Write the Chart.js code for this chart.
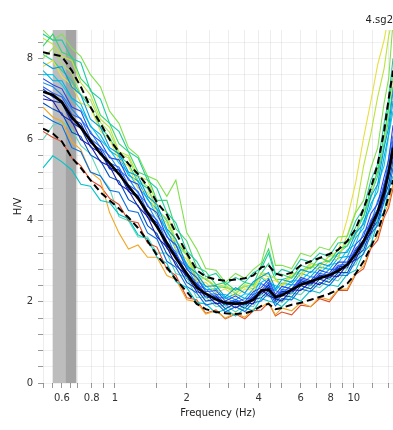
<!DOCTYPE html>
<html>
<head>
<meta charset="utf-8">
<script src="https://cdn.jsdelivr.net/npm/chart.js@4.4.1/dist/chart.umd.min.js"></script>
<style>
  html, body { margin: 0; padding: 0; background: #fff; overflow: hidden; }
  canvas { display: block; }
</style>
</head>
<body>
<canvas id="hvChart" width="393" height="430"></canvas>
<script>
// frequency samples (Hz)
var freqHz = [0.5,0.55,0.6,0.66,0.72,0.79,0.87,0.95,1.04,1.14,1.25,1.37,1.5,1.65,1.8,2.0,2.2,2.4,2.65,2.9,3.2,3.5,3.8,4.1,4.4,4.7,5.0,5.5,6.0,6.6,7.2,7.9,8.6,9.4,10.2,11.0,11.8,12.6,13.4,14.0,14.6];

// average H/V and the two std curves
var meanHV  = [7.18,7.10,6.92,6.55,6.30,5.98,5.65,5.42,5.15,4.85,4.55,4.20,3.85,3.45,3.08,2.70,2.36,2.20,2.06,1.98,1.95,1.97,2.05,2.28,2.30,2.12,2.16,2.30,2.42,2.50,2.58,2.66,2.76,2.92,3.18,3.50,3.85,4.22,4.70,5.20,5.80];
var upperHV = [8.15,8.10,8.05,7.70,7.30,6.80,6.40,6.00,5.70,5.40,5.15,4.85,4.45,4.15,3.70,3.20,2.78,2.62,2.55,2.52,2.55,2.58,2.65,2.85,2.90,2.70,2.65,2.72,2.90,3.00,3.08,3.18,3.28,3.50,3.80,4.30,4.80,5.40,6.20,7.00,7.70];
var lowerHV = [6.27,6.15,5.95,5.55,5.30,5.00,4.70,4.50,4.30,4.08,3.82,3.50,3.15,2.85,2.55,2.25,1.95,1.82,1.75,1.72,1.70,1.72,1.78,1.90,1.95,1.82,1.85,1.93,1.98,2.05,2.12,2.20,2.30,2.45,2.70,3.00,3.35,3.75,4.20,4.60,5.00];

// single time-window curves
var windowCurves = [
  [7.0,6.95,6.6,6.45,6.0,5.85,5.45,5.35,4.9,4.75,4.35,4.1,3.6,3.35,2.9,2.65,2.25,2.2,1.95,2.0,1.85,1.98,1.95,2.3,2.15,2.08,2.02,2.3,2.28,2.5,2.42,2.65,2.62,2.92,3.05,3.45,3.7,4.15,4.55,5.15,5.6],
  [7.5,7.35,7.25,6.8,6.7,6.15,5.95,5.55,5.5,5.0,4.9,4.35,4.2,3.6,3.4,2.8,2.6,2.25,2.28,2.02,2.15,2.0,2.25,2.35,2.55,2.18,2.38,2.32,2.6,2.52,2.78,2.7,2.98,2.98,3.42,3.62,4.18,4.42,5.08,5.5,6.35],
  [6.6,6.45,6.35,5.8,5.7,5.2,5.1,4.75,4.7,4.25,4.2,3.7,3.55,3.0,2.85,2.38,2.22,1.92,1.98,1.75,1.88,1.76,1.98,2.02,2.22,1.9,2.08,2.05,2.32,2.25,2.48,2.4,2.66,2.65,3.02,3.18,3.68,3.88,4.48,4.72,5.3],
  [7.9,7.75,7.8,7.3,7.1,6.5,6.3,5.8,5.65,5.2,5.1,4.6,4.4,3.8,3.55,2.9,2.7,2.38,2.4,2.12,2.35,2.22,2.5,2.62,2.72,2.32,2.55,2.48,2.8,2.72,2.95,2.88,3.2,3.22,3.7,3.92,4.6,4.9,5.8,6.3,7.2],
  [5.3,5.6,5.45,5.25,4.9,4.85,4.5,4.45,4.15,4.05,3.65,3.55,3.1,2.95,2.5,2.35,1.98,1.95,1.72,1.82,1.65,1.85,1.78,2.08,2.02,1.98,1.88,2.12,2.02,2.28,2.22,2.42,2.38,2.68,2.78,3.22,3.42,3.98,4.22,4.78,5.1],
  [8.6,8.45,8.45,8.0,7.9,7.2,7.0,6.4,6.2,5.7,5.55,5.0,4.8,4.2,3.95,3.25,3.0,2.62,2.7,2.42,2.6,2.48,2.72,2.82,3.2,2.65,2.8,2.72,3.05,2.98,3.2,3.12,3.45,3.48,4.0,4.3,5.0,5.4,6.4,7.0,8.0],
  [8.3,8.6,8.15,8.05,7.5,7.25,6.6,6.4,5.9,5.7,5.2,5.1,4.5,4.5,3.8,3.5,2.85,2.75,2.42,2.48,2.28,2.48,2.42,2.9,3.3,2.7,2.68,2.58,2.9,2.82,3.1,2.98,3.3,3.38,3.85,4.1,4.8,5.2,6.1,6.8,7.7],
  [8.7,8.45,8.6,8.25,8.05,7.6,7.3,6.7,6.4,5.8,5.6,5.1,5.0,4.6,5.0,3.7,3.3,2.82,2.78,2.48,2.7,2.58,2.8,2.95,3.65,2.9,2.9,2.82,3.2,3.12,3.35,3.28,3.6,3.62,4.2,4.5,5.3,5.8,6.9,7.5,8.9],
  [8.5,8.35,8.05,7.95,7.4,7.1,6.5,6.3,5.7,5.6,5.1,5.0,4.4,4.2,3.5,3.2,2.6,2.58,2.38,2.42,2.22,2.42,2.38,2.68,2.62,2.58,2.38,2.62,2.62,2.88,2.78,3.02,3.05,3.65,4.25,5.35,6.15,7.05,7.75,8.55,9.0],
  [7.8,7.95,7.55,7.35,6.9,6.8,6.2,6.0,5.5,5.35,4.8,4.7,4.15,3.95,3.3,3.05,2.5,2.48,2.22,2.32,2.12,2.32,2.28,2.62,2.52,2.52,2.42,2.68,2.68,2.92,2.88,3.12,3.25,4.05,4.95,6.05,6.95,7.85,8.45,9.05,9.5],
  [6.8,6.55,6.45,5.95,5.75,5.2,5.0,4.2,3.7,3.3,3.4,3.1,3.1,2.65,2.55,2.05,2.0,1.7,1.78,1.6,1.72,1.62,1.82,1.88,1.98,1.68,1.85,1.78,1.98,1.88,2.12,2.05,2.3,2.32,2.72,2.88,3.38,3.62,4.18,4.42,4.9],
  [6.2,6.05,5.95,5.55,5.35,5.0,4.85,4.55,4.4,4.0,3.95,3.45,3.35,2.8,2.65,2.1,2.05,1.72,1.8,1.58,1.7,1.58,1.78,1.8,1.98,1.65,1.75,1.68,1.92,1.88,2.08,2.0,2.28,2.28,2.68,2.82,3.32,3.52,4.08,4.32,4.8],
  [7.3,7.15,7.05,6.62,6.52,6.02,5.82,5.42,5.32,4.88,4.72,4.22,4.02,3.48,3.22,2.68,2.5,2.18,2.2,1.95,2.06,1.94,2.18,2.28,2.48,2.12,2.3,2.28,2.56,2.48,2.7,2.65,2.9,2.94,3.32,3.52,4.02,4.28,4.92,5.32,6.0],
  [6.9,6.75,6.65,6.18,6.08,5.62,5.48,5.08,4.98,4.52,4.38,3.88,3.68,3.18,2.98,2.48,2.32,2.02,2.06,1.83,1.96,1.84,2.06,2.1,2.28,1.98,2.16,2.12,2.4,2.32,2.56,2.48,2.72,2.72,3.12,3.28,3.78,3.98,4.58,4.88,5.5],
  [7.7,7.45,7.45,7.02,6.88,6.32,6.12,5.72,5.58,5.12,4.98,4.52,4.28,3.72,3.42,2.88,2.62,2.3,2.32,2.08,2.2,2.08,2.32,2.48,2.58,2.28,2.46,2.42,2.7,2.62,2.86,2.8,3.08,3.12,3.58,3.82,4.42,4.72,5.58,6.12,6.95],
  [6.0,6.35,6.45,6.25,5.85,5.65,5.1,4.8,4.1,4.0,3.6,3.6,3.2,3.2,2.7,2.6,2.1,2.12,1.88,1.92,1.75,1.92,1.88,2.18,2.12,2.12,1.98,2.22,2.18,2.42,2.35,2.58,2.52,2.82,2.92,3.38,3.58,4.08,4.42,4.98,5.4],
  [7.1,6.95,6.9,6.42,6.28,5.82,5.68,5.28,5.18,4.72,4.58,4.08,3.88,3.32,3.1,2.58,2.4,2.1,2.12,1.9,2.0,1.9,2.1,2.18,2.36,2.04,2.22,2.2,2.48,2.4,2.64,2.56,2.82,2.84,3.22,3.4,3.9,4.12,4.74,5.06,5.75],
  [8.0,8.25,7.85,7.65,7.1,6.98,6.42,6.18,5.65,5.55,5.0,4.85,4.25,4.05,3.4,3.15,2.55,2.58,2.32,2.38,2.2,2.38,2.32,2.72,2.68,2.58,2.42,2.7,2.7,2.96,2.88,3.14,3.12,3.48,3.62,4.25,4.55,5.3,5.8,6.8,7.5],
  [7.25,7.05,6.95,6.5,6.4,5.92,5.75,5.3,5.25,4.78,4.62,4.15,3.95,3.38,3.18,2.62,2.45,2.12,2.15,1.92,2.02,1.92,2.12,2.22,2.42,2.08,2.26,2.24,2.52,2.44,2.66,2.6,2.86,2.9,3.28,3.46,3.98,4.22,4.88,5.22,5.9],
  [7.4,7.3,7.1,6.75,6.5,6.2,5.8,5.6,5.25,5.05,4.68,4.4,3.98,3.65,3.12,2.85,2.42,2.32,2.1,2.1,1.98,2.08,2.1,2.45,2.35,2.28,2.2,2.42,2.42,2.62,2.58,2.8,2.8,3.1,3.2,3.72,3.92,4.5,4.8,5.55,6.1],
  [7.6,7.6,7.35,7.0,6.75,6.35,6.0,5.75,5.42,5.18,4.82,4.55,4.12,3.78,3.28,2.95,2.5,2.4,2.18,2.18,2.05,2.2,2.18,2.6,2.45,2.4,2.3,2.52,2.52,2.75,2.7,2.92,2.95,3.28,3.42,4.0,4.3,4.9,5.35,6.1,6.7],
  [8.1,7.95,7.7,7.45,7.1,6.8,6.3,6.05,5.6,5.4,4.95,4.8,4.3,4.0,3.5,3.15,2.7,2.55,2.38,2.35,2.3,2.38,2.42,2.7,2.95,2.55,2.55,2.62,2.78,2.85,2.95,3.02,3.2,3.38,3.72,4.1,4.65,5.1,5.9,6.5,7.3]
];
var windowColors = ['#1c1ca8','#2848e8','#0a6ee0','#009cdc','#00c4c8','#1ecca0','#3cd270','#82e050','#bce43c','#e6e03c','#f0a828','#e04c2c','#3060f0','#0050c0','#00b0e4','#5cd8b4','#1030b0','#a4e064','#0028d0','#1a8cf0','#14c8e6','#28d28c'];

// f0 band (Hz): start, centre, end
var f0Band = [0.55, 0.62, 0.69];

// ticks
var xGridTicks = [0.5,0.55,0.6,0.65,0.7,0.8,0.9,1,1.5,2,2.5,3,3.5,4,4.5,5,6,7,8,9,10,12,14];
var xLabelTicks = [0.6,0.8,1,2,4,6,8,10];
var yLabelTicks = [0,2,4,6,8];
var yStep = 0.4;

var toPoints = function(vals) {
    return vals.map(function(v, i) { return {x: freqHz[i], y: v}; });
};

var datasets = [];
datasets.push({ data: toPoints(meanHV), borderColor: '#000', borderWidth: 2.6, order: 0 });
datasets.push({ data: toPoints(upperHV), borderColor: '#000', borderWidth: 2, borderDash: [7, 4], order: 0 });
datasets.push({ data: toPoints(lowerHV), borderColor: '#000', borderWidth: 2, borderDash: [7, 4], order: 0 });
windowCurves.forEach(function(c, i) {
    datasets.push({ data: toPoints(c), borderColor: windowColors[i], borderWidth: 1.1, order: 1 });
});

var bandPlugin = {
    id: 'f0band',
    beforeDatasetsDraw: function(chart) {
        var ctx = chart.ctx, area = chart.chartArea, x = chart.scales.x;
        var a = x.getPixelForValue(f0Band[0]);
        var b = x.getPixelForValue(f0Band[1]);
        var c = x.getPixelForValue(f0Band[2]);
        ctx.save();
        ctx.fillStyle = '#bdbdbd';
        ctx.fillRect(a, area.top, b - a, area.bottom - area.top);
        ctx.fillStyle = '#a4a4a4';
        ctx.fillRect(b, area.top, c - b, area.bottom - area.top);
        ctx.restore();
    }
};

var font = { family: 'DejaVu Sans', size: 10 };

var ctx = document.getElementById('hvChart').getContext('2d');
var chart = new Chart(ctx, {
    type: 'line',
    data: { datasets: datasets },
    plugins: [bandPlugin],
    options: {
        responsive: false,
        animation: false,
        layout: { padding: 0 },
        elements: { point: { radius: 0 }, line: { tension: 0 } },
        plugins: {
            legend: { display: false },
            tooltip: { enabled: false },
            title: {
                display: true, text: '4.sg2', align: 'end', color: '#222',
                font: { family: 'DejaVu Sans', size: 10, weight: 'normal' },
                padding: { top: 14, bottom: 4 }
            }
        },
        scales: {
            x: {
                type: 'logarithmic', min: 0.5, max: 14.6,
                afterBuildTicks: function(scale) {
                    scale.ticks = xGridTicks.map(function(v) { return { value: v }; });
                },
                afterFit: function(scale) { scale.height = 47; },
                ticks: {
                    autoSkip: false, maxRotation: 0, padding: 4, color: '#333', font: font,
                    callback: function(v) { return xLabelTicks.indexOf(v) >= 0 ? String(v) : ''; }
                },
                grid: { color: 'rgba(0,0,0,0.07)', tickColor: '#999', tickLength: 5 },
                border: { display: false },
                title: { display: true, text: 'Frequency (Hz)', color: '#222', font: font, padding: { top: 0, bottom: 11 } }
            },
            y: {
                min: 0, max: 8.7,
                afterBuildTicks: function(scale) {
                    var t = [];
                    for (var i = 0; i * yStep <= 8.5; i++) t.push({ value: Math.round(i * yStep * 10) / 10 });
                    scale.ticks = t;
                },
                afterFit: function(scale) { scale.width = 43; },
                ticks: {
                    autoSkip: false, padding: 5, color: '#333', font: font,
                    callback: function(v) { return yLabelTicks.indexOf(v) >= 0 ? String(v) : ''; }
                },
                grid: { color: 'rgba(0,0,0,0.06)', tickColor: '#999', tickLength: 5 },
                border: { display: false },
                title: { display: true, text: 'H/V', color: '#222', font: font, padding: { top: 12, bottom: 0 } }
            }
        }
    }
});
</script>
</body>
</html>
